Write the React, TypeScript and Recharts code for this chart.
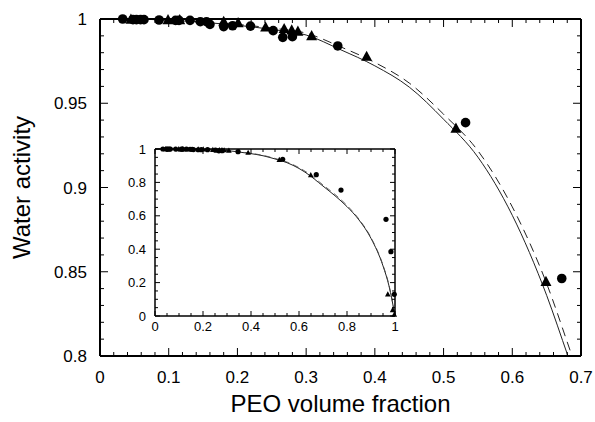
import React from 'react';
import { ComposedChart, Line, Scatter, XAxis, YAxis, Label } from 'recharts';

type Pt = { x: number; y: number };

// measured water activity, circles (main range)
const CIRCLES: Pt[] = [
  { x: 0.033, y: 1.0 },
  { x: 0.048, y: 0.9996 },
  { x: 0.053, y: 0.9996 },
  { x: 0.059, y: 0.9996 },
  { x: 0.064, y: 0.9996 },
  { x: 0.086, y: 0.9994 },
  { x: 0.11, y: 0.9992 },
  { x: 0.115, y: 0.9992 },
  { x: 0.131, y: 0.9992 },
  { x: 0.146, y: 0.9984 },
  { x: 0.155, y: 0.9984 },
  { x: 0.16, y: 0.9968 },
  { x: 0.18, y: 0.9955 },
  { x: 0.193, y: 0.996 },
  { x: 0.219, y: 0.9958 },
  { x: 0.252, y: 0.9931 },
  { x: 0.266, y: 0.9891 },
  { x: 0.28, y: 0.9895 },
  { x: 0.346, y: 0.984 },
  { x: 0.532, y: 0.9385 },
  { x: 0.672, y: 0.846 },
];

// measured water activity, triangles (main range)
const TRIANGLES: Pt[] = [
  { x: 0.045, y: 0.9996 },
  { x: 0.099, y: 0.9994 },
  { x: 0.116, y: 0.9994 },
  { x: 0.18, y: 0.9984 },
  { x: 0.201, y: 0.9976 },
  { x: 0.241, y: 0.995 },
  { x: 0.268, y: 0.9941 },
  { x: 0.279, y: 0.9933 },
  { x: 0.288, y: 0.9925 },
  { x: 0.308, y: 0.9899 },
  { x: 0.388, y: 0.9776 },
  { x: 0.518, y: 0.935 },
  { x: 0.649, y: 0.844 },
];

// points only seen in the full-range inset
const CIRCLES_HIGH: Pt[] = [
  { x: 0.775, y: 0.754 },
  { x: 0.9625, y: 0.579 },
  { x: 0.983, y: 0.385 },
  { x: 0.997, y: 0.13 },
];
const TRIANGLES_HIGH: Pt[] = [
  { x: 0.97, y: 0.13 },
  { x: 0.99, y: 0.035 },
  { x: 0.997, y: 0.008 },
];

// fitted curves
const SOLID_FIT: Pt[] = [
  { x: 0, y: 1.0 },
  { x: 0.05, y: 0.9999 },
  { x: 0.1, y: 0.9993 },
  { x: 0.15, y: 0.998 },
  { x: 0.2, y: 0.9963 },
  { x: 0.25, y: 0.9938 },
  { x: 0.3, y: 0.9905 },
  { x: 0.35, y: 0.9818 },
  { x: 0.4, y: 0.9722 },
  { x: 0.45, y: 0.9596 },
  { x: 0.5, y: 0.9405 },
  { x: 0.55, y: 0.918 },
  { x: 0.6, y: 0.8835 },
  { x: 0.65, y: 0.836 },
  { x: 0.681, y: 0.8 },
  { x: 0.7, y: 0.778 },
  { x: 0.75, y: 0.72 },
  { x: 0.8, y: 0.655 },
  { x: 0.85, y: 0.575 },
  { x: 0.9, y: 0.465 },
  { x: 0.95, y: 0.3 },
  { x: 0.975, y: 0.18 },
  { x: 1.0, y: 0.0 },
];
const DASHED_FIT: Pt[] = [
  { x: 0, y: 1.0 },
  { x: 0.05, y: 0.9999 },
  { x: 0.1, y: 0.9994 },
  { x: 0.15, y: 0.9983 },
  { x: 0.2, y: 0.9968 },
  { x: 0.25, y: 0.9946 },
  { x: 0.3, y: 0.9916 },
  { x: 0.35, y: 0.9835 },
  { x: 0.4, y: 0.9742 },
  { x: 0.45, y: 0.962 },
  { x: 0.5, y: 0.9435 },
  { x: 0.55, y: 0.9218 },
  { x: 0.6, y: 0.8885 },
  { x: 0.65, y: 0.843 },
  { x: 0.687, y: 0.8 },
  { x: 0.7, y: 0.785 },
  { x: 0.75, y: 0.728 },
  { x: 0.8, y: 0.662 },
  { x: 0.85, y: 0.58 },
  { x: 0.9, y: 0.47 },
  { x: 0.95, y: 0.305 },
  { x: 0.975, y: 0.185 },
  { x: 1.0, y: 0.0 },
];

const steps = (from: number, to: number, step: number) =>
  Array.from({ length: Math.round((to - from) / step) + 1 }, (_, i) => +(from + i * step).toFixed(3));

const MAIN_X_TICKS = steps(0, 0.7, 0.02);
const MAIN_Y_TICKS = steps(0.8, 1, 0.01);
const INSET_TICKS = steps(0, 1, 0.05);

const FONT = '"Liberation Sans", Arial, Helvetica, sans-serif';

const onStep = (v: number, step: number) => {
  const r = v / step;
  return Math.abs(r - Math.round(r)) < 1e-6;
};
const fmt = (v: number) => String(Math.round(v * 100) / 100);

// inward ticks, long on major values, optional label outside
function makeTick(side: string, major: number, long: number, short: number, fontSize = 0, gap = 0) {
  return (p: any) => {
    const { x, y, payload } = p;
    const v = payload.value;
    const isMaj = onStep(v, major);
    const len = isMaj ? long : short;
    const showText = isMaj && fontSize > 0;
    let x2 = x;
    let y2 = y;
    if (side === 'bottom') y2 = y - len;
    if (side === 'top') y2 = y + len;
    if (side === 'left') x2 = x + len;
    if (side === 'right') x2 = x - len;
    return (
      <g>
        <line x1={x} y1={y} x2={x2} y2={y2} stroke="#000" strokeWidth={1} />
        {showText && side === 'bottom' && (
          <text x={x} y={y + gap} textAnchor="middle" fontSize={fontSize} fontFamily={FONT} fill="#000">
            {fmt(v)}
          </text>
        )}
        {showText && side === 'left' && (
          <text x={x - gap} y={y + fontSize * 0.36} textAnchor="end" fontSize={fontSize} fontFamily={FONT} fill="#000">
            {fmt(v)}
          </text>
        )}
      </g>
    );
  };
}

const circleShape = (r: number) => (p: any) => <circle cx={p.cx} cy={p.cy} r={r} fill="#000" />;
const triangleShape = (s: number) => (p: any) => (
  <polygon
    points={`${p.cx},${p.cy - s * 1.1} ${p.cx - s},${p.cy + s * 0.75} ${p.cx + s},${p.cy + s * 0.75}`}
    fill="#000"
  />
);

function MainChart() {
  const axisLine = { stroke: '#000', strokeWidth: 2 };
  return (
    <ComposedChart width={595} height={422} margin={{ top: 18, right: 13, bottom: 0, left: 0 }}>
      <XAxis
        xAxisId="b"
        type="number"
        dataKey="x"
        domain={[0, 0.7]}
        ticks={MAIN_X_TICKS}
        interval={0}
        height={66}
        tickSize={0}
        tickMargin={0}
        tickLine={false}
        axisLine={axisLine}
        tick={makeTick('bottom', 0.1, 8, 4, 17, 27)}
      >
        <Label
          content={(p: any) => {
            const vb = p.viewBox;
            return (
              <text x={vb.x + vb.width / 2} y={vb.y + 56} textAnchor="middle" fontSize={24} fontFamily={FONT} fill="#000">
                PEO volume fraction
              </text>
            );
          }}
        />
      </XAxis>
      <XAxis
        xAxisId="t"
        orientation="top"
        type="number"
        dataKey="x"
        domain={[0, 0.7]}
        allowDataOverflow
        ticks={MAIN_X_TICKS}
        interval={0}
        height={1}
        tickSize={0}
        tickMargin={0}
        tickLine={false}
        axisLine={axisLine}
        tick={makeTick('top', 0.1, 8, 4)}
      />
      <YAxis
        yAxisId="l"
        type="number"
        domain={[0.8, 1]}
        ticks={MAIN_Y_TICKS}
        interval={0}
        width={100}
        tickSize={0}
        tickMargin={0}
        tickLine={false}
        axisLine={axisLine}
        tick={makeTick('left', 0.05, 8, 4, 17, 13)}
      >
        <Label
          content={(p: any) => {
            const vb = p.viewBox;
            const cx = vb.x + 30;
            const cy = vb.y + vb.height / 2;
            return (
              <text
                x={cx}
                y={cy}
                transform={`rotate(-90 ${cx} ${cy})`}
                textAnchor="middle"
                fontSize={24}
                fontFamily={FONT}
                fill="#000"
              >
                Water activity
              </text>
            );
          }}
        />
      </YAxis>
      <YAxis
        yAxisId="r"
        orientation="right"
        type="number"
        domain={[0.8, 1]}
        allowDataOverflow
        ticks={MAIN_Y_TICKS}
        interval={0}
        width={1}
        tickSize={0}
        tickMargin={0}
        tickLine={false}
        axisLine={axisLine}
        tick={makeTick('right', 0.05, 8, 4)}
      />
      <Line
        xAxisId="t"
        yAxisId="r"
        data={SOLID_FIT}
        dataKey="y"
        type="monotone"
        stroke="#222"
        strokeWidth={1}
        dot={false}
        activeDot={false}
        isAnimationActive={false}
      />
      <Line
        xAxisId="t"
        yAxisId="r"
        data={DASHED_FIT}
        dataKey="y"
        type="monotone"
        stroke="#222"
        strokeWidth={1}
        strokeDasharray="9 6"
        dot={false}
        activeDot={false}
        isAnimationActive={false}
      />
      <Scatter xAxisId="b" yAxisId="l" data={TRIANGLES} dataKey="y" shape={triangleShape(5.5)} isAnimationActive={false} />
      <Scatter xAxisId="b" yAxisId="l" data={CIRCLES} dataKey="y" shape={circleShape(4.8)} isAnimationActive={false} />
    </ComposedChart>
  );
}

function InsetChart() {
  const axisLine = { stroke: '#000', strokeWidth: 1.5 };
  return (
    <ComposedChart width={285} height={200} margin={{ top: 8, right: 4, bottom: 0, left: 0 }}>
      <XAxis
        xAxisId="b"
        type="number"
        dataKey="x"
        domain={[0, 1]}
        ticks={INSET_TICKS}
        interval={0}
        height={24}
        tickSize={0}
        tickMargin={0}
        tickLine={false}
        axisLine={axisLine}
        tick={makeTick('bottom', 0.2, 5, 3, 13, 15)}
      />
      <XAxis
        xAxisId="t"
        orientation="top"
        type="number"
        dataKey="x"
        domain={[0, 1]}
        ticks={INSET_TICKS}
        interval={0}
        height={1}
        tickSize={0}
        tickMargin={0}
        tickLine={false}
        axisLine={axisLine}
        tick={makeTick('top', 0.2, 5, 3)}
      />
      <YAxis
        yAxisId="l"
        type="number"
        domain={[0, 1]}
        ticks={INSET_TICKS}
        interval={0}
        width={40}
        tickSize={0}
        tickMargin={0}
        tickLine={false}
        axisLine={axisLine}
        tick={makeTick('left', 0.2, 5, 3, 13, 9)}
      />
      <YAxis
        yAxisId="r"
        orientation="right"
        type="number"
        domain={[0, 1]}
        ticks={INSET_TICKS}
        interval={0}
        width={1}
        tickSize={0}
        tickMargin={0}
        tickLine={false}
        axisLine={axisLine}
        tick={makeTick('right', 0.2, 5, 3)}
      />
      <Line
        xAxisId="t"
        yAxisId="r"
        data={SOLID_FIT}
        dataKey="y"
        type="monotone"
        stroke="#222"
        strokeWidth={1}
        dot={false}
        activeDot={false}
        isAnimationActive={false}
      />
      <Line
        xAxisId="t"
        yAxisId="r"
        data={DASHED_FIT}
        dataKey="y"
        type="monotone"
        stroke="#444"
        strokeWidth={0.8}
        strokeDasharray="6 4"
        dot={false}
        activeDot={false}
        isAnimationActive={false}
      />
      <Scatter
        xAxisId="b"
        yAxisId="l"
        data={[...TRIANGLES, ...TRIANGLES_HIGH]}
        dataKey="y"
        shape={triangleShape(2.8)}
        isAnimationActive={false}
      />
      <Scatter
        xAxisId="b"
        yAxisId="l"
        data={[...CIRCLES, ...CIRCLES_HIGH]}
        dataKey="y"
        shape={circleShape(2.6)}
        isAnimationActive={false}
      />
    </ComposedChart>
  );
}

export default function App() {
  return (
    <div style={{ position: 'absolute', left: 0, top: 0, width: 595, height: 422, background: '#fff' }}>
      <MainChart />
      <div style={{ position: 'absolute', left: 115, top: 140 }}>
        <InsetChart />
      </div>
    </div>
  );
}
